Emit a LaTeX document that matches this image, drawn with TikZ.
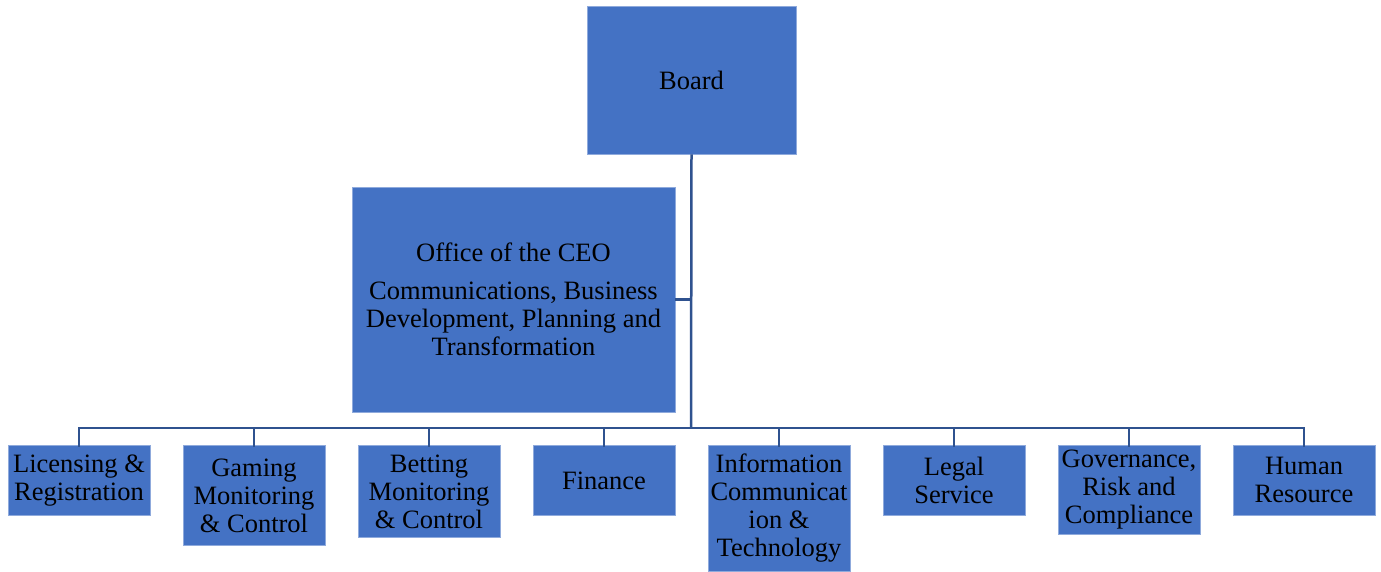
\documentclass[tikz,border=0pt]{standalone}
\usepackage{fontspec}
\setmainfont{Liberation Serif}
\definecolor{boxfill}{HTML}{4472C4}
\definecolor{boxedge}{HTML}{8FAADC}
\definecolor{linkcol}{HTML}{2F528F}
\tikzset{
  unit/.style={rectangle, fill=boxfill, draw=boxedge, line width=0.8pt,
    align=center, inner xsep=1pt, inner ysep=0pt, text=black,
    font=\fontsize{26.5}{28}\selectfont},
  dept/.style={unit, anchor=north, minimum width=142pt},
  link/.style={draw=linkcol, line width=2.5pt}
}
\begin{document}
\begin{tikzpicture}[x=1pt,y=-1pt]
\useasboundingbox (0,0) rectangle (1381,571);
\node[unit, minimum width=209pt, minimum height=148pt] (board) at (691.5,80) {Board};
\node[unit, minimum width=323pt, minimum height=225pt] (ceo) at (513.5,299.5)
  {Office of the CEO\\[10pt]Communications, Business\\Development, Planning and\\Transformation};
\node[dept, minimum height=70pt] (lic) at (79,445) {Licensing \&\\Registration};
\node[dept, minimum height=100pt] (gam) at (254,445) {Gaming\\Monitoring\\\& Control};
\node[dept, minimum height=92pt] (bet) at (429,445) {Betting\\Monitoring\\\& Control};
\node[dept, minimum height=70pt] (fin) at (604,445) {Finance};
\node[dept, minimum height=126pt] (ict) at (779,445) {Information\\Communicat\\ion \&\\Technology};
\node[dept, minimum height=70pt] (leg) at (954,445) {Legal\\Service};
\node[dept, minimum height=89pt] (gov) at (1129,445) {Governance,\\Risk and\\Compliance};
\node[dept, minimum height=70pt] (hr) at (1304,445) {Human\\Resource};
\coordinate (bus) at (691,428);
\draw[link] (board.south) -- (bus);
\draw[link] (ceo.east) -- (ceo.east -| board.south);
\foreach \n in {lic,gam,bet,fin,ict,leg,gov,hr}{
  \draw[link] (bus) -| ([yshift=-2pt]\n.north);
}
\end{tikzpicture}
\end{document}
